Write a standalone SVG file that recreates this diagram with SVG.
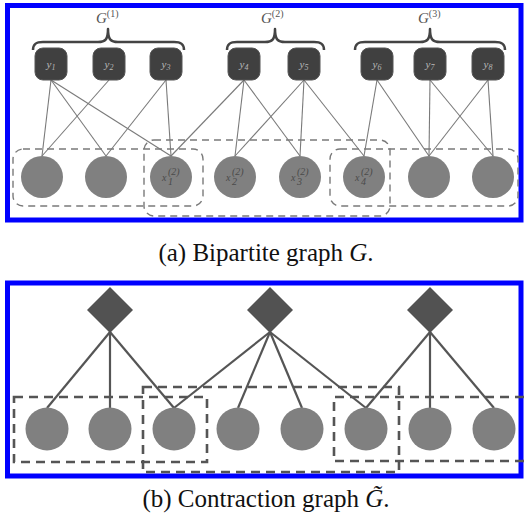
<svg xmlns="http://www.w3.org/2000/svg" width="524" height="519" viewBox="0 0 524 519">
<style>
.panel{fill:#fff;stroke:#0000ff;stroke-width:5}
.box{fill:#404040;stroke:#555;stroke-width:1}
.circ{fill:#808080}
.dia{fill:#525252}
.e1{stroke:#7a7a7a;stroke-width:1.1;fill:none}
.e2{stroke:#555;stroke-width:2.2;fill:none}
.g1{fill:none;stroke:#7a7a7a;stroke-width:1.4;stroke-dasharray:7 5}
.g2{fill:none;stroke:#555;stroke-width:2.6;stroke-dasharray:9 6}
.brace{fill:none;stroke:#444;stroke-width:2.5;stroke-linejoin:round}
.ylab{font-family:"Liberation Serif",serif;font-style:italic;font-size:11px;fill:#b8b8b8;text-anchor:middle}
.xlab{font-family:"Liberation Serif",serif;font-style:italic;font-size:10px;fill:#4a4a4a}
.glab{font-family:"Liberation Serif",serif;font-style:italic;font-size:15px;fill:#555}
.cap{font-family:"Liberation Serif",serif;font-size:25px;fill:#111;text-anchor:middle}
</style>
<rect class="panel" x="7.5" y="5.5" width="513.5" height="214.5"/>
<rect class="panel" x="7.5" y="283" width="513.5" height="193"/>

<g id="braces">
<path class="brace" d="M33 50 C33 44 36 42 43 42 L98 42 C105 42 108 40 108 29 C108 40 111 42 118 42 L174 42 C181 42 184 44 184 50"/>
<path class="brace" d="M227 50 C227 44 230 42 237 42 L265 42 C272 42 275 40 275 29 C275 40 278 42 285 42 L314 42 C321 42 324 44 324 50"/>
<path class="brace" d="M355 50 C355 44 358 42 365 42 L420 42 C427 42 430 40 430 29 C430 40 433 42 440 42 L495 42 C502 42 505 44 505 50"/>
<text class="glab" x="96" y="23">G<tspan font-style="normal" font-size="10" dy="-6">(1)</tspan></text>
<text class="glab" x="261" y="23">G<tspan font-style="normal" font-size="10" dy="-6">(2)</tspan></text>
<text class="glab" x="418" y="23">G<tspan font-style="normal" font-size="10" dy="-6">(3)</tspan></text>
</g>

<g id="groups-a">
<rect class="g1" x="13" y="149" width="190" height="57" rx="10"/>
<rect class="g1" x="144" y="140" width="246" height="76" rx="10"/>
<rect class="g1" x="330" y="149" width="188" height="57" rx="10"/>
</g>

<g id="edges-a">
<line class="e1" x1="51" y1="80" x2="42" y2="156"/>
<line class="e1" x1="51" y1="80" x2="106" y2="156"/>
<line class="e1" x1="51" y1="80" x2="171" y2="156"/>
<line class="e1" x1="109" y1="80" x2="42" y2="156"/>
<line class="e1" x1="166" y1="80" x2="106" y2="156"/>
<line class="e1" x1="166" y1="80" x2="171" y2="156"/>
<line class="e1" x1="244" y1="80" x2="171" y2="156"/>
<line class="e1" x1="244" y1="80" x2="235" y2="156"/>
<line class="e1" x1="244" y1="80" x2="300" y2="156"/>
<line class="e1" x1="304" y1="80" x2="235" y2="156"/>
<line class="e1" x1="304" y1="80" x2="300" y2="156"/>
<line class="e1" x1="304" y1="80" x2="364" y2="156"/>
<line class="e1" x1="377" y1="80" x2="364" y2="156"/>
<line class="e1" x1="377" y1="80" x2="429" y2="156"/>
<line class="e1" x1="430" y1="80" x2="429" y2="156"/>
<line class="e1" x1="430" y1="80" x2="493" y2="156"/>
<line class="e1" x1="488" y1="80" x2="429" y2="156"/>
<line class="e1" x1="488" y1="80" x2="493" y2="156"/>
</g>

<g id="y1"><rect class="box" x="35" y="48" width="32" height="32" rx="8"/><text class="ylab" x="51" y="68">y<tspan font-size="8" dy="2">1</tspan></text></g>
<g id="y2"><rect class="box" x="93" y="48" width="32" height="32" rx="8"/><text class="ylab" x="109" y="68">y<tspan font-size="8" dy="2">2</tspan></text></g>
<g id="y3"><rect class="box" x="150" y="48" width="32" height="32" rx="8"/><text class="ylab" x="166" y="68">y<tspan font-size="8" dy="2">3</tspan></text></g>
<g id="y4"><rect class="box" x="228" y="48" width="32" height="32" rx="8"/><text class="ylab" x="244" y="68">y<tspan font-size="8" dy="2">4</tspan></text></g>
<g id="y5"><rect class="box" x="288" y="48" width="32" height="32" rx="8"/><text class="ylab" x="304" y="68">y<tspan font-size="8" dy="2">5</tspan></text></g>
<g id="y6"><rect class="box" x="361" y="48" width="32" height="32" rx="8"/><text class="ylab" x="377" y="68">y<tspan font-size="8" dy="2">6</tspan></text></g>
<g id="y7"><rect class="box" x="414" y="48" width="32" height="32" rx="8"/><text class="ylab" x="430" y="68">y<tspan font-size="8" dy="2">7</tspan></text></g>
<g id="y8"><rect class="box" x="472" y="48" width="32" height="32" rx="8"/><text class="ylab" x="488" y="68">y<tspan font-size="8" dy="2">8</tspan></text></g>

<g id="a1"><circle class="circ" cx="42" cy="177" r="21"/></g>
<g id="a2"><circle class="circ" cx="106" cy="177" r="21"/></g>
<g id="a3"><circle class="circ" cx="171" cy="177" r="21"/><text class="xlab" x="162" y="181">x</text><text class="xlab" font-size="7" x="168" y="175">(2)</text><text class="xlab" font-size="7" font-style="normal" x="168" y="185">1</text></g>
<g id="a4"><circle class="circ" cx="235" cy="177" r="21"/><text class="xlab" x="226" y="181">x</text><text class="xlab" font-size="7" x="232" y="175">(2)</text><text class="xlab" font-size="7" font-style="normal" x="232" y="185">2</text></g>
<g id="a5"><circle class="circ" cx="300" cy="177" r="21"/><text class="xlab" x="291" y="181">x</text><text class="xlab" font-size="7" x="297" y="175">(2)</text><text class="xlab" font-size="7" font-style="normal" x="297" y="185">3</text></g>
<g id="a6"><circle class="circ" cx="364" cy="177" r="21"/><text class="xlab" x="355" y="181">x</text><text class="xlab" font-size="7" x="361" y="175">(2)</text><text class="xlab" font-size="7" font-style="normal" x="361" y="185">4</text></g>
<g id="a7"><circle class="circ" cx="429" cy="177" r="21"/></g>
<g id="a8"><circle class="circ" cx="493" cy="177" r="21"/></g>

<text class="cap" x="266" y="261">(a) Bipartite graph <tspan font-style="italic">G</tspan>.</text>

<g id="groups-b">
<rect class="g2" x="14" y="397" width="193" height="65"/>
<rect class="g2" x="143" y="387" width="256" height="85"/>
<path class="g2" d="M524 397 H334 V461 H524"/>
</g>

<g id="edges-b">
<line class="e2" x1="110" y1="332" x2="47" y2="408"/>
<line class="e2" x1="110" y1="332" x2="110" y2="408"/>
<line class="e2" x1="110" y1="332" x2="174" y2="408"/>
<line class="e2" x1="270" y1="332" x2="174" y2="408"/>
<line class="e2" x1="270" y1="332" x2="238" y2="408"/>
<line class="e2" x1="270" y1="332" x2="302" y2="408"/>
<line class="e2" x1="270" y1="332" x2="366" y2="408"/>
<line class="e2" x1="430" y1="332" x2="366" y2="408"/>
<line class="e2" x1="430" y1="332" x2="430" y2="408"/>
<line class="e2" x1="430" y1="332" x2="494" y2="408"/>
</g>

<g id="d1"><polygon class="dia" points="110,287 133,310 110,333 87,310"/></g>
<g id="d2"><polygon class="dia" points="270,287 293,310 270,333 247,310"/></g>
<g id="d3"><polygon class="dia" points="430,287 453,310 430,333 407,310"/></g>

<g id="b1"><circle class="circ" cx="47" cy="429" r="21.5"/></g>
<g id="b2"><circle class="circ" cx="110" cy="429" r="21.5"/></g>
<g id="b3"><circle class="circ" cx="174" cy="429" r="21.5"/></g>
<g id="b4"><circle class="circ" cx="238" cy="429" r="21.5"/></g>
<g id="b5"><circle class="circ" cx="302" cy="429" r="21.5"/></g>
<g id="b6"><circle class="circ" cx="366" cy="429" r="21.5"/></g>
<g id="b7"><circle class="circ" cx="430" cy="429" r="21.5"/></g>
<g id="b8"><circle class="circ" cx="494" cy="429" r="21.5"/></g>

<text class="cap" x="266" y="507">(b) Contraction graph <tspan font-style="italic">G̃</tspan>.</text>
</svg>
